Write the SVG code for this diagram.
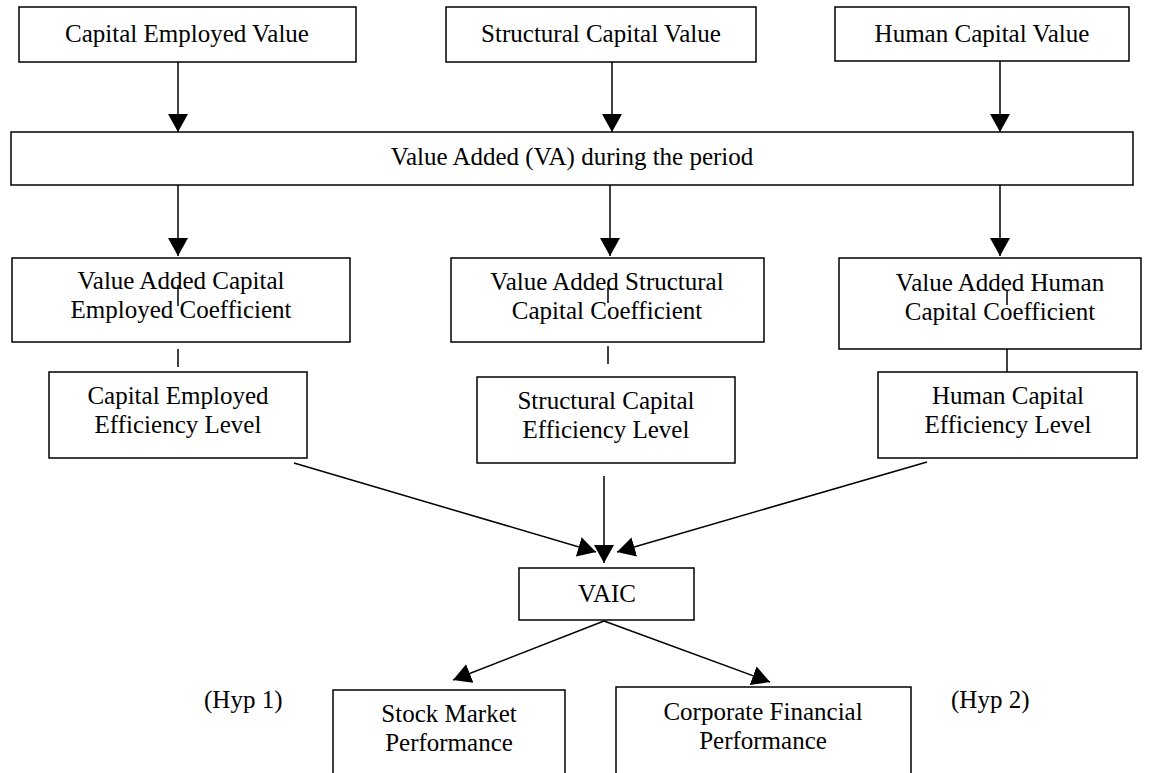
<svg xmlns="http://www.w3.org/2000/svg" width="1151" height="773" viewBox="0 0 1151 773">
<style>
.box{fill:#fff;stroke:#000;stroke-width:1.5}
.t{font-family:"Liberation Serif","Times New Roman",serif;font-size:25px;fill:#000;text-anchor:middle}
.tl{font-family:"Liberation Serif","Times New Roman",serif;font-size:25px;fill:#000}
.c{stroke:#000;stroke-width:1.5;fill:none}
.a{stroke:#000;stroke-width:1.5;fill:none;marker-end:url(#ah)}
</style>
<defs>
<marker id="ah" markerUnits="userSpaceOnUse" markerWidth="19" markerHeight="21" refX="18" refY="10" orient="auto" viewBox="0 0 19 21">
<path d="M0,0 L18,10 L0,20 z" fill="#000"/>
</marker>
</defs>
<rect width="1151" height="773" fill="#fff"/>
<g id="cev"><rect class="box" x="19" y="7" width="337" height="55"/><text class="t" x="187" y="42">Capital Employed Value</text></g>
<g id="scv"><rect class="box" x="446" y="7" width="310" height="55"/><text class="t" x="601" y="42">Structural Capital Value</text></g>
<g id="hcv"><rect class="box" x="835" y="7" width="294" height="54"/><text class="t" x="982" y="42">Human Capital Value</text></g>
<g id="va"><rect class="box" x="11" y="132" width="1122" height="53"/><text class="t" x="572" y="165">Value Added (VA) during the period</text></g>
<g id="vace"><rect class="box" x="12" y="258" width="338" height="84"/><text class="t" x="181" y="289">Value Added Capital</text><text class="t" x="181" y="318">Employed Coefficient</text></g>
<g id="vasc"><rect class="box" x="451" y="258" width="313" height="84"/><text class="t" x="607" y="290">Value Added Structural</text><text class="t" x="607" y="319">Capital Coefficient</text></g>
<g id="vahc"><rect class="box" x="839" y="258" width="302" height="91"/><text class="t" x="1000" y="291">Value Added Human</text><text class="t" x="1000" y="320">Capital Coefficient</text></g>
<g id="cee"><rect class="box" x="49" y="372" width="258" height="86"/><text class="t" x="178" y="404">Capital Employed</text><text class="t" x="178" y="433">Efficiency Level</text></g>
<g id="sce"><rect class="box" x="477" y="377" width="258" height="86"/><text class="t" x="606" y="409">Structural Capital</text><text class="t" x="606" y="438">Efficiency Level</text></g>
<g id="hce"><rect class="box" x="878" y="372" width="259" height="86"/><text class="t" x="1008" y="404">Human Capital</text><text class="t" x="1008" y="433">Efficiency Level</text></g>
<g id="vaic"><rect class="box" x="519" y="568" width="175" height="52"/><text class="t" x="607" y="602">VAIC</text></g>
<g id="smp"><rect class="box" x="333" y="690" width="232" height="120"/><text class="t" x="449" y="722">Stock Market</text><text class="t" x="449" y="751">Performance</text></g>
<g id="cfp"><rect class="box" x="616" y="687" width="295" height="120"/><text class="t" x="763" y="720">Corporate Financial</text><text class="t" x="763" y="749">Performance</text></g>
<g id="hyp1"><text class="tl" x="204" y="708">(Hyp 1)</text></g>
<g id="hyp2"><text class="tl" x="951" y="708">(Hyp 2)</text></g>
<g id="connectors">
<line class="a" x1="178" y1="62" x2="178" y2="132"/>
<line class="a" x1="612" y1="62" x2="612" y2="132"/>
<line class="a" x1="1000" y1="61" x2="1000" y2="132"/>
<line class="a" x1="178" y1="185" x2="178" y2="256"/>
<line class="a" x1="610" y1="185" x2="610" y2="256"/>
<line class="a" x1="1000" y1="185" x2="1000" y2="256"/>
<line class="c" x1="178" y1="285" x2="178" y2="306"/>
<line class="c" x1="178" y1="349" x2="178" y2="367"/>
<line class="c" x1="608" y1="288" x2="608" y2="303"/>
<line class="c" x1="608" y1="346" x2="608" y2="364"/>
<line class="c" x1="1007" y1="290" x2="1007" y2="305"/>
<line class="c" x1="1007" y1="349" x2="1007" y2="372"/>
<line class="a" x1="294" y1="463" x2="596" y2="552"/>
<line class="a" x1="604" y1="476" x2="604" y2="563"/>
<line class="a" x1="927" y1="462" x2="617" y2="552"/>
<line class="a" x1="604" y1="621" x2="453" y2="680"/>
<line class="a" x1="604" y1="621" x2="770" y2="682"/>
</g>
</svg>
